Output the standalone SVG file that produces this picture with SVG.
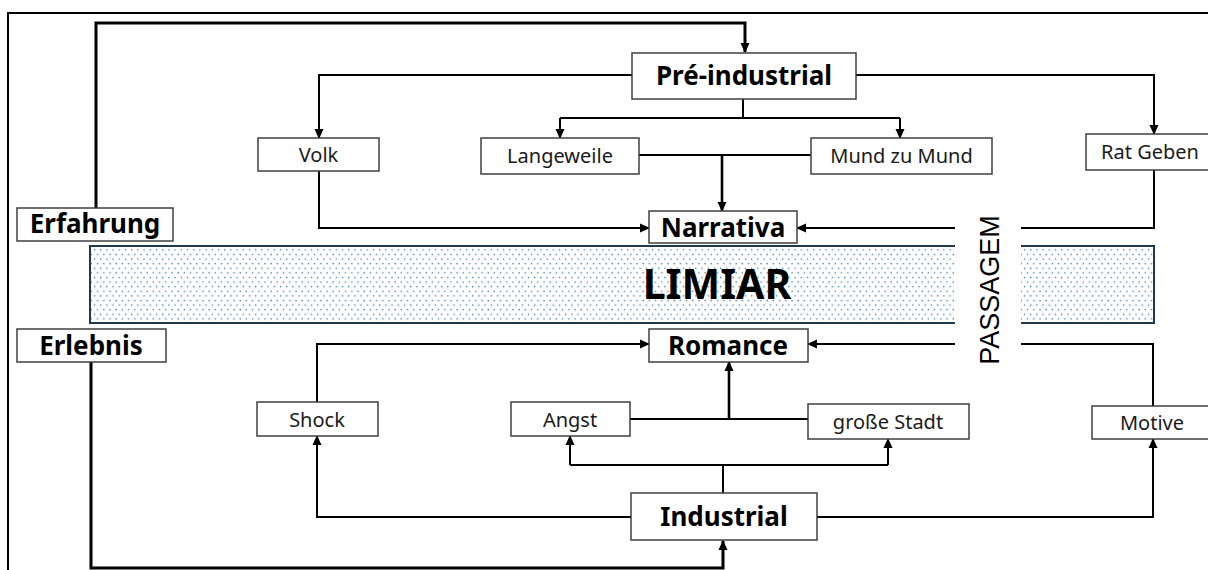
<svg xmlns="http://www.w3.org/2000/svg" width="1208" height="570" viewBox="0 0 1208 570">
<style>
.box{fill:#fff;stroke:#3f3f3f;stroke-width:1.5}
.t{font-family:"Noto Sans","Open Sans",sans-serif;font-size:20px;fill:#1a1a1a;text-anchor:middle}
.b{font-family:"Noto Sans","Open Sans",sans-serif;font-size:26px;font-weight:700;fill:#000;text-anchor:middle}
.c{fill:none;stroke:#000;stroke-width:2}
.thick{stroke-width:3}
.mid{stroke-width:2.6}
</style>
<defs>
<marker id="ah" markerUnits="userSpaceOnUse" markerWidth="10" markerHeight="10" viewBox="0 0 10 10" refX="9" refY="5" orient="auto">
<path d="M0,0.5 L10,5 L0,9.5 Z" fill="#000"/>
</marker>
<pattern id="dots" patternUnits="userSpaceOnUse" width="6.2" height="9.2">
<rect width="6.2" height="9.2" fill="#fff"/>
<circle cx="1.5" cy="1.5" r="0.75" fill="#3a7aaa"/>
<circle cx="4.6" cy="6.1" r="0.75" fill="#3a7aaa"/>
</pattern>
</defs>

<path d="M8 570 V13 H1208" fill="none" stroke="#000" stroke-width="2"/>

<g id="limiar">
<rect x="90" y="246" width="1064" height="77" fill="url(#dots)"/>
<rect x="955" y="243" width="66" height="83" fill="#fff"/>
<path d="M955 246 H90 V323 H955 M1021 246 H1154 V323 H1021" fill="none" stroke="#1f3a4a" stroke-width="2"/>
<text x="717" y="299" font-family="Noto Sans, sans-serif" font-size="41" font-weight="700" text-anchor="middle" fill="#000">LIMIAR</text>
</g>

<g id="passagem">
<text transform="translate(999 290) rotate(-90)" font-family="Liberation Sans, Arial, sans-serif" font-size="27" text-anchor="middle" fill="#000">PASSAGEM</text>
</g>

<g id="connectors">
<path class="c thick" d="M96 208 V23 H745 V52" marker-end="url(#ah)"/>
<path class="c thick" d="M91 362 V568 H723 V541" marker-end="url(#ah)"/>
<path class="c" d="M632 75 H319 V138" marker-end="url(#ah)"/>
<path class="c" d="M856 75 H1154 V134" marker-end="url(#ah)"/>
<path class="c" d="M743 99 V118 M560 118 H900"/>
<path class="c" d="M560 118 V138" marker-end="url(#ah)"/>
<path class="c" d="M900 118 V138" marker-end="url(#ah)"/>
<path class="c" d="M639 155 H811"/>
<path class="c mid" d="M722 155 V211" marker-end="url(#ah)"/>
<path class="c" d="M319 171 V228 H649" marker-end="url(#ah)"/>
<path class="c" d="M1154 170 V228 H1021"/>
<path class="c" d="M955 228 H797" marker-end="url(#ah)"/>
<path class="c" d="M317 402 V344 H649" marker-end="url(#ah)"/>
<path class="c" d="M1153 406 V344 H1021"/>
<path class="c" d="M955 344 H808" marker-end="url(#ah)"/>
<path class="c" d="M631 517 H317 V436" marker-end="url(#ah)"/>
<path class="c" d="M817 517 H1153 V439" marker-end="url(#ah)"/>
<path class="c" d="M723 493 V465 M570 465 H888"/>
<path class="c" d="M570 465 V436" marker-end="url(#ah)"/>
<path class="c" d="M888 465 V439" marker-end="url(#ah)"/>
<path class="c" d="M630 419 H808"/>
<path class="c mid" d="M729 419 V362" marker-end="url(#ah)"/>
</g>

<g id="erfahrung"><rect class="box" x="17" y="208" width="156" height="33"/><text class="b" x="95" y="233">Erfahrung</text></g>
<g id="pre-industrial"><rect class="box" x="632" y="53" width="224" height="46"/><text class="b" x="744" y="85">Pré-industrial</text></g>
<g id="volk"><rect class="box" x="258" y="138" width="121" height="33"/><text class="t" x="318.5" y="162">Volk</text></g>
<g id="langeweile"><rect class="box" x="481" y="138" width="158" height="36"/><text class="t" x="560" y="163">Langeweile</text></g>
<g id="mund"><rect class="box" x="811" y="138" width="181" height="36"/><text class="t" x="901.5" y="163">Mund zu Mund</text></g>
<g id="ratgeben"><rect class="box" x="1086" y="134" width="126" height="36"/><text class="t" x="1150" y="159">Rat Geben</text></g>
<g id="narrativa"><rect class="box" x="649" y="211" width="148" height="32"/><text class="b" x="723" y="237">Narrativa</text></g>
<g id="erlebnis"><rect class="box" x="17" y="329" width="149" height="33"/><text class="b" x="91" y="355">Erlebnis</text></g>
<g id="romance"><rect class="box" x="649" y="329" width="159" height="33"/><text class="b" x="728" y="355">Romance</text></g>
<g id="shock"><rect class="box" x="257" y="402" width="121" height="34"/><text class="t" x="317" y="427">Shock</text></g>
<g id="angst"><rect class="box" x="511" y="402" width="119" height="34"/><text class="t" x="570" y="427">Angst</text></g>
<g id="grosse-stadt"><rect class="box" x="808" y="404" width="161" height="35"/><text class="t" x="888" y="429">große Stadt</text></g>
<g id="motive"><rect class="box" x="1092" y="406" width="120" height="33"/><text class="t" x="1152" y="430">Motive</text></g>
<g id="industrial"><rect class="box" x="631" y="493" width="186" height="47"/><text class="b" x="724" y="526">Industrial</text></g>
</svg>
